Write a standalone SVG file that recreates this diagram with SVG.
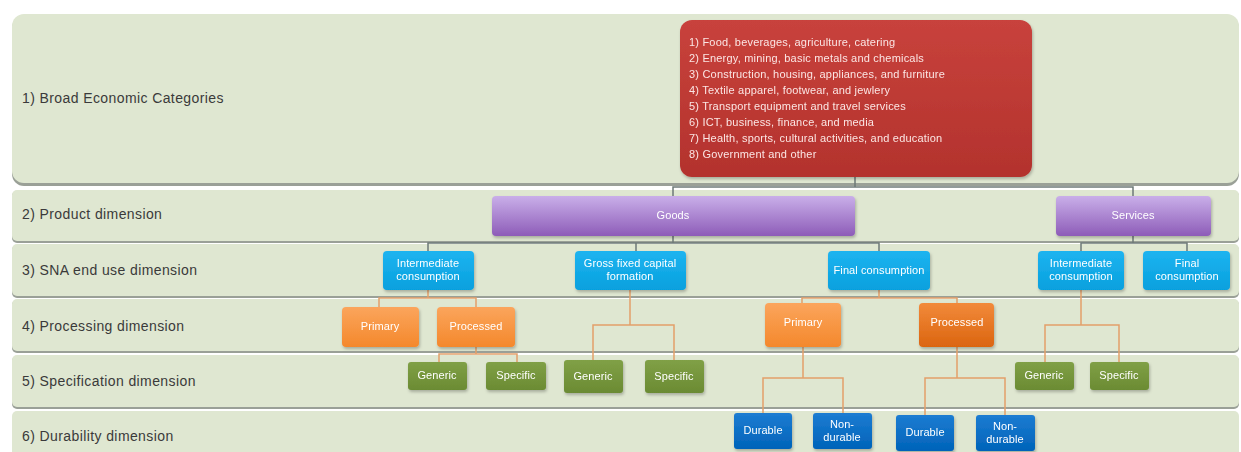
<svg xmlns="http://www.w3.org/2000/svg" width="1241" height="452" viewBox="0 0 1241 452">
<defs>
<linearGradient id="gPurple" x1="0" y1="0" x2="0" y2="1"><stop offset="0" stop-color="#c9afe9"/><stop offset="1" stop-color="#8d5cb8"/></linearGradient>
<linearGradient id="gBlue" x1="0" y1="0" x2="0" y2="1"><stop offset="0" stop-color="#1eb4f0"/><stop offset="1" stop-color="#06a0de"/></linearGradient>
<linearGradient id="gOrange" x1="0" y1="0" x2="0" y2="1"><stop offset="0" stop-color="#fba55c"/><stop offset="1" stop-color="#f4882c"/></linearGradient>
<linearGradient id="gOrange2" x1="0" y1="0" x2="0" y2="1"><stop offset="0" stop-color="#f28a3a"/><stop offset="1" stop-color="#db6510"/></linearGradient>
<linearGradient id="gGreen" x1="0" y1="0" x2="0" y2="1"><stop offset="0" stop-color="#80a046"/><stop offset="1" stop-color="#6b8b33"/></linearGradient>
<linearGradient id="gDark" x1="0" y1="0" x2="0" y2="1"><stop offset="0" stop-color="#1c7cd2"/><stop offset="1" stop-color="#0063b9"/></linearGradient>
<linearGradient id="gRed" x1="0" y1="0" x2="0" y2="1"><stop offset="0" stop-color="#c8423c"/><stop offset="1" stop-color="#b3322d"/></linearGradient>
<filter id="sh" x="-10%" y="-10%" width="130%" height="140%"><feDropShadow dx="1" dy="2" stdDeviation="1.5" flood-color="#000" flood-opacity="0.25"/></filter>
</defs>
<style>
.band{fill:#dfe7d1}
.bandsh{fill:#9aa097}
.bl{font-family:"Liberation Sans",Arial,sans-serif;font-size:14px;letter-spacing:0.4px;fill:#3a3a3a}
.nt{font-family:"Liberation Sans",Arial,sans-serif;font-size:11px;letter-spacing:0.1px;fill:#ffffff;text-anchor:middle}
.rt{font-family:"Liberation Sans",Arial,sans-serif;font-size:11px;letter-spacing:0.2px;fill:#fbe6e4}
.cg{fill:none;stroke:#6e7a78;stroke-width:1.5}
.co{fill:none;stroke:#e3a06a;stroke-width:1.5}
</style>
<rect width="1241" height="452" fill="#ffffff"/>
<g id="bands">
<rect class="bandsh" x="12" y="16" width="1227" height="170" rx="12"/>
<rect class="band" x="12" y="14" width="1227" height="169" rx="12"/>
<rect class="bandsh" x="12" y="191" width="1227" height="52" rx="5"/>
<rect class="band" x="12" y="190" width="1227" height="51" rx="5"/>
<rect class="bandsh" x="12" y="245" width="1227" height="53" rx="5"/>
<rect class="band" x="12" y="244" width="1227" height="52" rx="5"/>
<rect class="bandsh" x="12" y="300" width="1227" height="53" rx="5"/>
<rect class="band" x="12" y="299" width="1227" height="52" rx="5"/>
<rect class="bandsh" x="12" y="356" width="1227" height="53" rx="5"/>
<rect class="band" x="12" y="355" width="1227" height="52" rx="5"/>
<rect class="band" x="12" y="411" width="1227" height="50" rx="5"/>
<text class="bl" x="22" y="103">1) Broad Economic Categories</text>
<text class="bl" x="22" y="219">2) Product dimension</text>
<text class="bl" x="22" y="275">3) SNA end use dimension</text>
<text class="bl" x="22" y="331">4) Processing dimension</text>
<text class="bl" x="22" y="386">5) Specification dimension</text>
<text class="bl" x="22" y="441">6) Durability dimension</text>
</g>
<g id="connectors">
<path class="cg" d="M855,177 V187 M673,196 V187 H1133 V196"/>
<path class="cg" d="M673,236 V243 M428,251 V243 H879 V251 M636,243 V251"/>
<path class="cg" d="M1133,236 V243 M1081,251 V243 H1187 V251"/>
<path class="co" d="M428,290 V298 M379,307 V298 H476 V307"/>
<path class="co" d="M476,347 V354 M439,362 V354 H517 V362"/>
<path class="co" d="M630,290 V325 M593,360 V325 H674 V360"/>
<path class="co" d="M879,290 V298 M802,303 V298 H957 V303"/>
<path class="co" d="M803,347 V378 M763,413 V378 H843 V413"/>
<path class="co" d="M957,347 V378 M925,415 V378 H1005 V415"/>
<path class="co" d="M1081,290 V325 M1045,362 V325 H1119 V362"/>
</g>
<g id="bec" filter="url(#sh)">
<rect x="680" y="20" width="352" height="157" rx="12" fill="url(#gRed)"/>
<text class="rt" x="689" y="46">1) Food, beverages, agriculture, catering</text>
<text class="rt" x="689" y="62">2) Energy, mining, basic metals and chemicals</text>
<text class="rt" x="689" y="78">3) Construction, housing, appliances, and furniture</text>
<text class="rt" x="689" y="94">4) Textile apparel, footwear, and jewlery</text>
<text class="rt" x="689" y="110">5) Transport equipment and travel services</text>
<text class="rt" x="689" y="126">6) ICT, business, finance, and media</text>
<text class="rt" x="689" y="142">7) Health, sports, cultural activities, and education</text>
<text class="rt" x="689" y="158">8) Government and other</text>
</g>
<g id="goods" filter="url(#sh)">
<rect x="492" y="196" width="363" height="40" rx="4" fill="url(#gPurple)"/>
<text class="nt" x="673" y="219">Goods</text>
</g>
<g id="services" filter="url(#sh)">
<rect x="1056" y="196" width="155" height="40" rx="4" fill="url(#gPurple)"/>
<text class="nt" x="1133" y="219">Services</text>
</g>
<g id="g-ic" filter="url(#sh)">
<rect x="383" y="251" width="91" height="39" rx="4" fill="url(#gBlue)"/>
<text class="nt" x="428" y="267">Intermediate</text>
<text class="nt" x="428" y="280">consumption</text>
</g>
<g id="g-gfcf" filter="url(#sh)">
<rect x="575" y="251" width="111" height="39" rx="4" fill="url(#gBlue)"/>
<text class="nt" x="630" y="267">Gross fixed capital</text>
<text class="nt" x="630" y="280">formation</text>
</g>
<g id="g-fc" filter="url(#sh)">
<rect x="828" y="251" width="102" height="39" rx="4" fill="url(#gBlue)"/>
<text class="nt" x="879" y="274">Final consumption</text>
</g>
<g id="s-ic" filter="url(#sh)">
<rect x="1038" y="251" width="86" height="39" rx="4" fill="url(#gBlue)"/>
<text class="nt" x="1081" y="267">Intermediate</text>
<text class="nt" x="1081" y="280">consumption</text>
</g>
<g id="s-fc" filter="url(#sh)">
<rect x="1143" y="251" width="87" height="39" rx="4" fill="url(#gBlue)"/>
<text class="nt" x="1187" y="267">Final</text>
<text class="nt" x="1187" y="280">consumption</text>
</g>
<g id="ic-primary" filter="url(#sh)">
<rect x="342" y="307" width="77" height="40" rx="4" fill="url(#gOrange)"/>
<text class="nt" x="380" y="330">Primary</text>
</g>
<g id="ic-processed" filter="url(#sh)">
<rect x="437" y="307" width="78" height="40" rx="4" fill="url(#gOrange)"/>
<text class="nt" x="476" y="330">Processed</text>
</g>
<g id="fc-primary" filter="url(#sh)">
<rect x="765" y="303" width="76" height="44" rx="4" fill="url(#gOrange)"/>
<text class="nt" x="803" y="326">Primary</text>
</g>
<g id="fc-processed" filter="url(#sh)">
<rect x="919" y="303" width="75" height="44" rx="4" fill="url(#gOrange2)"/>
<text class="nt" x="957" y="326">Processed</text>
</g>
<g id="ic-generic" filter="url(#sh)">
<rect x="408" y="362" width="59" height="28" rx="3" fill="url(#gGreen)"/>
<text class="nt" x="437" y="379">Generic</text>
</g>
<g id="ic-specific" filter="url(#sh)">
<rect x="486" y="362" width="60" height="28" rx="3" fill="url(#gGreen)"/>
<text class="nt" x="516" y="379">Specific</text>
</g>
<g id="gfcf-generic" filter="url(#sh)">
<rect x="564" y="360" width="59" height="33" rx="3" fill="url(#gGreen)"/>
<text class="nt" x="593" y="380">Generic</text>
</g>
<g id="gfcf-specific" filter="url(#sh)">
<rect x="645" y="360" width="59" height="33" rx="3" fill="url(#gGreen)"/>
<text class="nt" x="674" y="380">Specific</text>
</g>
<g id="s-generic" filter="url(#sh)">
<rect x="1015" y="362" width="59" height="28" rx="3" fill="url(#gGreen)"/>
<text class="nt" x="1044" y="379">Generic</text>
</g>
<g id="s-specific" filter="url(#sh)">
<rect x="1090" y="362" width="59" height="28" rx="3" fill="url(#gGreen)"/>
<text class="nt" x="1119" y="379">Specific</text>
</g>
<g id="p-durable" filter="url(#sh)">
<rect x="734" y="413" width="58" height="36" rx="3" fill="url(#gDark)"/>
<text class="nt" x="763" y="434">Durable</text>
</g>
<g id="p-nondurable" filter="url(#sh)">
<rect x="813" y="413" width="59" height="36" rx="3" fill="url(#gDark)"/>
<text class="nt" x="842" y="428">Non-</text>
<text class="nt" x="842" y="441">durable</text>
</g>
<g id="pr-durable" filter="url(#sh)">
<rect x="896" y="415" width="58" height="36" rx="3" fill="url(#gDark)"/>
<text class="nt" x="925" y="436">Durable</text>
</g>
<g id="pr-nondurable" filter="url(#sh)">
<rect x="976" y="415" width="59" height="36" rx="3" fill="url(#gDark)"/>
<text class="nt" x="1005" y="430">Non-</text>
<text class="nt" x="1005" y="443">durable</text>
</g>
</svg>
